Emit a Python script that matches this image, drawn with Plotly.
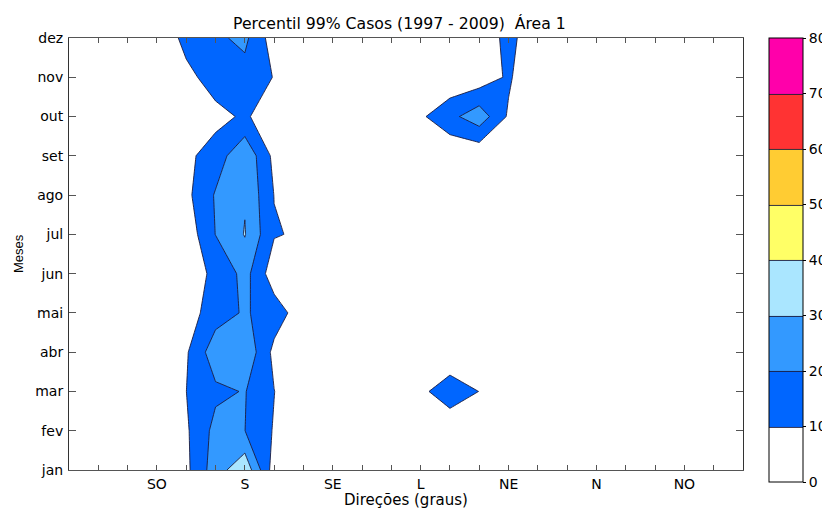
import plotly.graph_objects as go

# Direction sectors (x positions, in sector steps)
setores = [0, 1, 2, 3, 4, 5, 6, 7, 8, 9, 10, 11, 12, 13, 14, 15, 16, 17, 18, 19, 20, 21, 22, 23]
rotulos_dir_pos = [3, 6, 9, 12, 15, 18, 21]
rotulos_dir = ["SO", "S", "SE", "L", "NE", "N", "NO"]

meses = ["jan", "fev", "mar", "abr", "mai", "jun", "jul", "ago", "set", "out", "nov", "dez"]
meses_pos = [0, 1, 2, 3, 4, 5, 6, 7, 8, 9, 10, 11]

# Percentil 99% values per month (rows) and direction sector (columns)
z_jan = [0, 0, 0, 0, 7.7, 25.2, 37.5, 5.0, 0, 0, 0, 0, 0, 0, 0, 0, 0, 0, 0, 0, 0, 0, 0, 0]
z_fev = [0, 0, 0, 0, 8.55, 23.05, 20.1, 9.2, 0, 0, 0, 0, 0, 7.35, 0, 0, 0, 0, 0, 0, 0, 0, 0, 0]
z_mar = [0, 0, 0, 0, 9.95, 18.0, 20.5, 10.2, 0, 0, 0, 0, 9.2, 12.0, 9.95, 0, 0, 0, 0, 0, 0, 0, 0, 0]
z_abr = [0, 0, 0, 0, 8.8, 26.0, 28.1, 7.3, 0, 0, 0, 0, 0, 7.2, 0, 0, 0, 0, 0, 0, 0, 0, 0, 0]
z_mai = [0, 0, 0, 0, 4.9, 15.5, 21.1, 15.3, 4.0, 0, 0, 0, 0, 0, 0, 0, 0, 0, 0, 0, 0, 0, 0, 0]
z_jun = [0, 0, 0, 0, 8.8, 10.5, 23.7, 4.2, 0, 0, 0, 0, 0, 0, 0, 0, 0, 0, 0, 0, 0, 0, 0, 0]
z_jul = [0, 0, 0, 0, 3.6, 20.2, 30.5, 10.7, 8.6, 0, 0, 0, 0, 0, 0, 0, 0, 0, 0, 0, 0, 0, 0, 0]
z_ago = [0, 0, 0, 0, 7.4, 20.9, 29.15, 9.8, 0, 0, 0, 0, 0, 0, 0, 0, 0, 0, 0, 0, 0, 0, 0, 0]
z_set = [0, 0, 0, 0, 7.6, 14.8, 28.1, 7.3, 0, 0, 0, 0, 3.0, 1.7, 1.7, 0, 0, 0, 0, 0, 0, 0, 0, 0]
z_out = [0, 0, 0, 0, 2.0, 6.7, 11.6, 3.2, 0, 0, 0, 0, 8.4, 17.1, 26.1, 8.6, 0, 0, 0, 0, 0, 0, 0, 0]
z_nov = [0, 0, 0, 0, 6.8, 15.0, 16.2, 9.6, 0, 0, 0, 0, 3.0, 2.0, 3.9, 11.5, 0, 0, 0, 0, 0, 0, 0, 0]
z_dez = [0, 0, 0, 0, 13.7, 18.2, 22.3, 4.8, 0, 0, 0, 0, 0, 0, 0.5, 14.2, 0, 0, 0, 0, 0, 0, 0, 0]

niveis_cor = ["#ffffff", "#0066ff", "#3399ff", "#aae6ff", "#ffff66", "#ffcc33", "#ff3333", "#ff00aa"]
cb_ticks = [0, 10, 20, 30, 40, 50, 60, 70, 80]

Z = [z_jan, z_fev, z_mar, z_abr, z_mai, z_jun, z_jul, z_ago, z_set, z_out, z_nov, z_dez]

n = len(niveis_cor)
colorscale = []
for i, c in enumerate(niveis_cor):
    colorscale.append([i / n, c])
    colorscale.append([(i + 1) / n, c])

WIDE = "DejaVu Sans, Verdana, sans-serif"
NARROW = "Liberation Sans, Arial, sans-serif"

fig = go.Figure()
fig.add_trace(go.Contour(
    x=setores, y=meses_pos, z=Z,
    zmin=0, zmax=80,
    colorscale=colorscale,
    contours=dict(start=10, end=70, size=10, coloring="fill"),
    line=dict(color="#1c1c3c", width=0.9, smoothing=0),
    colorbar=dict(
        x=1.0386, xanchor="left", y=1.0, yanchor="top",
        len=1.028, lenmode="fraction",
        thickness=34, thicknessmode="pixels",
        outlinecolor="black", outlinewidth=1,
        tickmode="array", tickvals=cb_ticks,
        ticks="outside", ticklen=3, tickcolor="black",
        tickfont=dict(size=14, color="black", family=WIDE),
        ypad=0, xpad=0,
    ),
    hoverinfo="skip",
))

fig.update_layout(
    width=822, height=500,
    margin=dict(l=61, r=87, t=30, b=38, autoexpand=False),
    paper_bgcolor="white", plot_bgcolor="white",
    font=dict(family=WIDE, size=14, color="black"),
    showlegend=False,
)

fig.update_xaxes(
    range=[0, 23], showgrid=False, zeroline=False, automargin=False,
    tickmode="array", tickvals=setores,
    ticktext=[rotulos_dir[rotulos_dir_pos.index(v)] if v in rotulos_dir_pos else "" for v in setores],
    ticks="inside", ticklen=5, tickcolor="#555", tickwidth=1,
    showline=True, linecolor="#555", linewidth=1, mirror="ticks",
    tickfont=dict(size=14, family=WIDE), ticklabelstandoff=1,
)
fig.update_yaxes(
    range=[0, 11], showgrid=False, zeroline=False, automargin=False,
    tickmode="array", tickvals=meses_pos, ticktext=meses,
    ticks="inside", ticklen=7, tickcolor="#555", tickwidth=1,
    showline=True, linecolor="#333", linewidth=1, mirror="ticks",
    tickfont=dict(size=14, family=WIDE), ticklabelstandoff=2,
)

fig.add_annotation(text="Percentil 99% Casos (1997 - 2009)  Área 1",
                   xref="paper", yref="paper", x=0.5, xshift=-7, y=1, yshift=15,
                   showarrow=False, font=dict(size=15.7, family=WIDE),
                   xanchor="center", yanchor="middle")
fig.add_annotation(text="Direções (graus)",
                   xref="paper", yref="paper", x=0.5, y=0, yshift=-30,
                   showarrow=False, font=dict(size=15, family=WIDE),
                   xanchor="center", yanchor="middle")
fig.add_annotation(text="Meses", textangle=-90,
                   xref="paper", yref="paper", x=0, xshift=-51, y=0.5,
                   showarrow=False, font=dict(size=13, family=NARROW),
                   xanchor="center", yanchor="middle")

fig.write_html("out.html")
